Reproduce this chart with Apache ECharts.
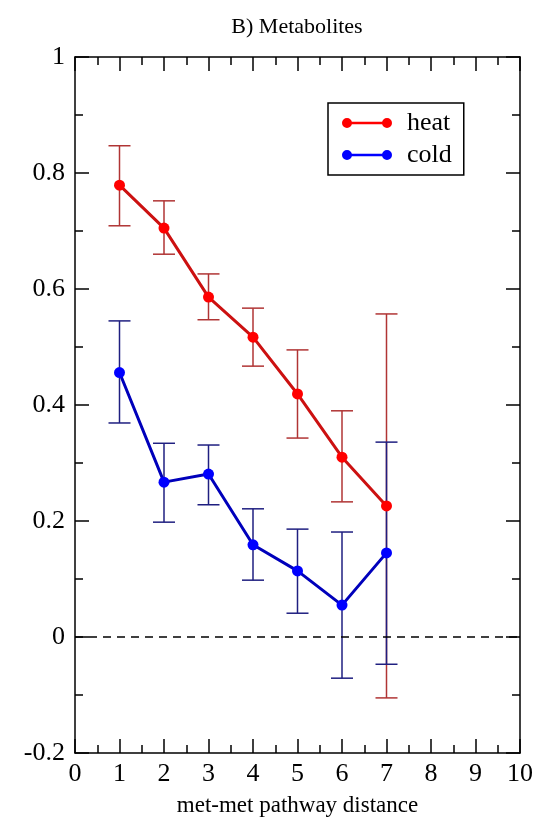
<!DOCTYPE html>
<html>
<head>
<meta charset="utf-8">
<script src="https://cdn.jsdelivr.net/npm/echarts@6/dist/echarts.min.js"></script>
<style>
  html, body { margin: 0; padding: 0; background: #fff; }
  #main { width: 550px; height: 821px; }
</style>
</head>
<body>
<div id="main"></div>
<script>
// pathway distance
const distances = [1, 2, 3, 4, 5, 6, 7];

// heat: mean and error range
const heatMean = [0.779, 0.705, 0.586, 0.517, 0.419, 0.310, 0.226];
const heatLow  = [0.709, 0.660, 0.547, 0.467, 0.343, 0.233, -0.105];
const heatHigh = [0.847, 0.752, 0.626, 0.567, 0.495, 0.390, 0.557];

// cold: mean and error range
const coldMean = [0.456, 0.267, 0.281, 0.159, 0.114, 0.055, 0.145];
const coldLow  = [0.369, 0.198, 0.228, 0.098, 0.041, -0.071, -0.047];
const coldHigh = [0.545, 0.334, 0.331, 0.221, 0.186, 0.181, 0.336];

const serif = '"Liberation Serif", "DejaVu Serif", serif';

function pairs(xs, ys) {
  return xs.map((x, i) => [x, ys[i]]);
}
function bars(xs, lo, hi) {
  return xs.map((x, i) => [x, lo[i], hi[i]]);
}

// error bars drawn with a custom series
function errorBar(color) {
  return function (params, api) {
    const x = api.value(0);
    const lo = api.coord([x, api.value(1)]);
    const hi = api.coord([x, api.value(2)]);
    const w = 11;
    const style = { stroke: color, lineWidth: 1.5, fill: null };
    return {
      type: 'group',
      children: [
        { type: 'line', shape: { x1: lo[0], y1: lo[1], x2: hi[0], y2: hi[1] }, style: style },
        { type: 'line', shape: { x1: lo[0] - w, y1: lo[1], x2: lo[0] + w, y2: lo[1] }, style: style },
        { type: 'line', shape: { x1: hi[0] - w, y1: hi[1], x2: hi[0] + w, y2: hi[1] }, style: style }
      ]
    };
  };
}

const legendIcon = 'path://M0,5A5,5,0,1,1,10,5A5,5,0,1,1,0,5ZM5,3.7L45,3.7L45,6.3L5,6.3ZM40,5A5,5,0,1,1,50,5A5,5,0,1,1,40,5Z';

const tickCommon = {
  axisLine: { show: true, onZero: false, lineStyle: { color: '#000', width: 1.5 } },
  axisTick: { show: true, inside: true, length: 14, lineStyle: { color: '#000', width: 1.5 } },
  minorTick: { show: true, splitNumber: 2, length: 8, lineStyle: { color: '#000', width: 1.5 } },
  splitLine: { show: false }
};

let options = {
  animation: false,
  backgroundColor: '#fff',
  title: {
    text: 'B) Metabolites',
    left: 292, top: 11, textAlign: 'center',
    textStyle: { fontFamily: serif, fontSize: 22, fontWeight: 'normal', color: '#000' }
  },
  grid: { left: 75, right: 30, top: 57, bottom: 68, outerBoundsMode: 'none', containLabel: false },
  legend: {
    left: 328, top: 103,
    orient: 'vertical',
    data: [
      { name: 'heat', icon: legendIcon },
      { name: 'cold', icon: legendIcon }
    ],
    itemWidth: 50, itemHeight: 10, itemGap: 6,
    padding: [7, 12, 7, 14],
    backgroundColor: '#fff',
    borderColor: '#000', borderWidth: 1.5,
    textStyle: { fontFamily: serif, fontSize: 26, color: '#000', padding: [0, 0, 0, 10] }
  },
  xAxis: [
    Object.assign({
      type: 'value', min: 0, max: 10, interval: 1,
      name: 'met-met pathway distance', nameLocation: 'middle', nameGap: 41,
      nameTextStyle: { fontFamily: serif, fontSize: 23, color: '#000' },
      axisLabel: { fontFamily: serif, fontSize: 26, color: '#000', margin: 8 }
    }, tickCommon),
    Object.assign({
      type: 'value', min: 0, max: 10, interval: 1, position: 'top',
      axisLabel: { show: false }
    }, tickCommon)
  ],
  yAxis: [
    Object.assign({
      type: 'value', min: -0.2, max: 1, interval: 0.2,
      axisLabel: {
        fontFamily: serif, fontSize: 26, color: '#000', margin: 10,
        formatter: v => String(Math.round(v * 10) / 10)
      }
    }, tickCommon),
    Object.assign({
      type: 'value', min: -0.2, max: 1, interval: 0.2, position: 'right',
      axisLabel: { show: false }
    }, tickCommon)
  ],
  series: [
    {
      name: 'heat err', type: 'custom', z: 2,
      renderItem: errorBar('#b03434'),
      encode: { x: 0, y: [1, 2] },
      data: bars(distances, heatLow, heatHigh)
    },
    {
      name: 'cold err', type: 'custom', z: 2,
      renderItem: errorBar('#1f1f80'),
      encode: { x: 0, y: [1, 2] },
      data: bars(distances, coldLow, coldHigh)
    },
    {
      name: 'heat', type: 'line', z: 4,
      data: pairs(distances, heatMean),
      symbol: 'circle', symbolSize: 11,
      lineStyle: { color: '#cc1111', width: 3 },
      itemStyle: { color: '#ff0000' },
      markLine: {
        silent: true, symbol: 'none', label: { show: false },
        lineStyle: { color: '#000', type: [8, 6], width: 1.5 },
        data: [{ yAxis: 0 }]
      }
    },
    {
      name: 'cold', type: 'line', z: 4,
      data: pairs(distances, coldMean),
      symbol: 'circle', symbolSize: 11,
      lineStyle: { color: '#0000bb', width: 3 },
      itemStyle: { color: '#0000ff' }
    }
  ]
};

let myChart = echarts.init(document.getElementById('main'));
myChart.setOption(options);
</script>
</body>
</html>
